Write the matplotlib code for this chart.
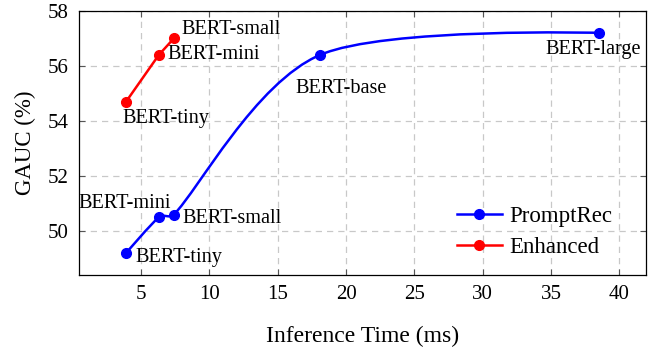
import matplotlib
matplotlib.use("agg")
import matplotlib.pyplot as plt
from matplotlib.path import Path
from matplotlib.patches import PathPatch
import numpy as np

plt.rcParams["font.family"] = ["Liberation Serif", "DejaVu Serif"]

# data
models = ["BERT-tiny", "BERT-mini", "BERT-small", "BERT-base", "BERT-large"]
prompt_time = [3.9, 6.3, 7.4, 18.1, 38.5]
prompt_gauc = [49.2, 50.5, 50.6, 56.4, 57.2]

enh_models = ["BERT-tiny", "BERT-mini", "BERT-small"]
enh_time = [3.9, 6.3, 7.4]
enh_gauc = [54.7, 56.4, 57.0]

# label offsets in pixels (dx, dy, ha, va)
prompt_offsets = [(9, -4, "left", "center"), (-34, 14, "center", "center"),
                  (9, -4, "left", "center"), (21, -34, "center", "center"),
                  (-6, -17, "center", "center")]
enh_offsets = [(-4, -17, "left", "center"), (9, 0, "left", "center"),
               (8, 9, "left", "center")]


def smooth_path(ax, xs, ys, tension=0.55, clamp=0.4):
    # tikz-like smooth curve, built in pixel space, control arms clamped
    tr = ax.transData
    p = tr.transform(np.column_stack([xs, ys]))
    f = 0.2775 * tension
    n = len(p)

    def arm(v, seg):
        L = np.hypot(*v)
        lim = clamp * np.hypot(*seg)
        return v * (lim / L) if L > lim else v

    verts = [p[0]]
    codes = [Path.MOVETO]
    for i in range(n - 1):
        seg = p[i + 1] - p[i]
        c1 = p[0] if i == 0 else p[i] + arm(f * (p[i + 1] - p[i - 1]), seg)
        c2 = p[n - 1] if i + 1 == n - 1 else p[i + 1] - arm(f * (p[i + 2] - p[i]), seg)
        verts += [c1, c2, p[i + 1]]
        codes += [Path.CURVE4] * 3
    verts = tr.inverted().transform(np.array(verts))
    return Path(verts, codes)


fig = plt.figure(figsize=(6.62, 3.5), dpi=100)
ax = fig.add_axes([0.119, 0.214, 0.857, 0.755])

ax.set_xlim(0.44, 41.96)
ax.set_ylim(48.4, 58.0)
ax.set_xticks([5, 10, 15, 20, 25, 30, 35, 40])
ax.set_yticks([50, 52, 54, 56, 58])

ax.grid(True, color="#c8c8c8", linestyle=(0, (5, 4)), linewidth=0.9)
ax.set_axisbelow(True)
ax.tick_params(direction="in", length=4, color="#555555", top=True, right=True,
               labelsize=15, width=0.8, pad=7)
for s in ax.spines.values():
    s.set_linewidth(0.9)

ax.add_patch(PathPatch(smooth_path(ax, prompt_time, prompt_gauc), facecolor="none",
                       edgecolor="blue", linewidth=1.8, zorder=3))
ax.plot(prompt_time, prompt_gauc, "o", color="blue", markersize=7, zorder=4)
ax.plot(enh_time, enh_gauc, "-o", color="red", linewidth=1.8, markersize=7, zorder=4)

k = 0.72  # px -> pt at 100 dpi
for name, x, y, (dx, dy, ha, va) in zip(models, prompt_time, prompt_gauc, prompt_offsets):
    ax.annotate(name, (x, y), xytext=(dx * k, dy * k), textcoords="offset points",
                ha=ha, va=va, fontsize=14.6)
for name, x, y, (dx, dy, ha, va) in zip(enh_models, enh_time, enh_gauc, enh_offsets):
    ax.annotate(name, (x, y), xytext=(dx * k, dy * k), textcoords="offset points",
                ha=ha, va=va, fontsize=14.6)

# legend handles
h1, = ax.plot([], [], "-o", color="blue", linewidth=1.8, markersize=7)
h2, = ax.plot([], [], "-o", color="red", linewidth=1.8, markersize=7)
ax.legend([h1, h2], ["PromptRec", "Enhanced"], loc="center",
          bbox_to_anchor=(0.804, 0.163), frameon=False, fontsize=16.5,
          handlelength=1.95, handletextpad=0.35, labelspacing=0.45, borderpad=0)

ax.set_xlabel("Inference Time (ms)", fontsize=17, labelpad=16)
ax.set_ylabel("GAUC (%)", fontsize=16.5, labelpad=9)

fig.savefig("out.png", dpi=100)
